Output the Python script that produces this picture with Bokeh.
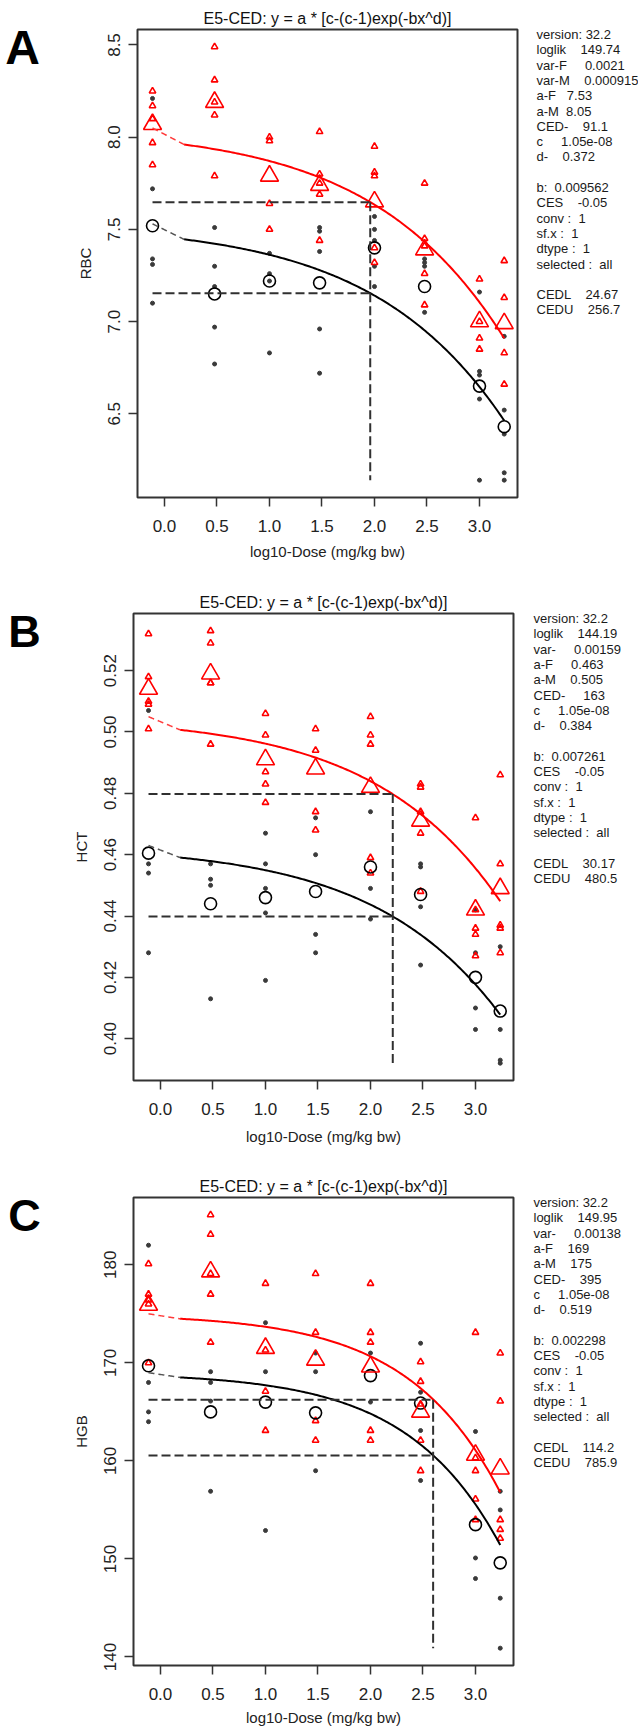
import numpy as np
from bokeh.plotting import figure
from bokeh.layouts import column, row
from bokeh.models import FixedTicker, Range1d, PrintfTickFormatter
from bokeh.core.properties import value
from bokeh.embed import file_html
from bokeh.resources import INLINE

FONT = "Liberation Sans"

# ---------------- data ----------------
dose_levels = [0, 3, 10, 30, 100, 300, 1000, 1720]
x_control = -0.114      # position where the control group (dose 0) is drawn
x_dash_end = 0.187      # end of the dashed part of the fitted curves
x_ticks = [0.0, 0.5, 1.0, 1.5, 2.0, 2.5, 3.0]

# Panel A  (RBC)
rbc_m = [[8.25, 8.17, 8.10, 7.97, 7.85], [8.49, 8.31, 8.19, 8.12, 7.79],
         [8.00, 7.98, 7.64, 7.50], [8.03, 7.80, 7.75, 7.69, 7.44],
         [7.95, 7.81, 7.79, 7.40, 7.32], [7.75, 7.45, 7.41, 7.26, 7.09],
         [7.23, 7.00, 6.91, 6.85], [7.33, 7.13, 6.83, 6.66]]
rbc_f = [[8.21, 7.72, 7.34, 7.31, 7.10], [7.51, 7.30, 7.19, 6.97, 6.77],
         [7.37, 7.26, 7.22, 6.83], [7.51, 7.49, 7.38, 6.96, 6.72],
         [7.57, 7.50, 7.44, 7.30, 7.19], [7.34, 7.32, 7.30, 7.05],
         [7.16, 6.73, 6.71, 6.58, 6.14], [6.92, 6.52, 6.39, 6.18, 6.14]]
rbc_m_mean = [8.07, 8.19, 7.79, 7.74, 7.65, 7.39, 7.00, 6.99]
rbc_f_mean = [7.52, 7.15, 7.22, 7.21, 7.40, 7.19, 6.65, 6.43]
rbc_par = dict(aF=7.53, aM=8.05, b=0.009562, c=1.05e-08, d=0.372, CES=-0.05, CED=91.1)
rbc_ticks = [6.5, 7.0, 7.5, 8.0, 8.5]
rbc_info = [("version: 32.2", None, 0), ("loglik", "149.74", 4), ("var-F", "0.0021", 5),
            ("var-M", "0.000915", 4), ("a-F", "7.53", 3), ("a-M", "8.05", 2),
            ("CED-", "91.1", 4), ("c", "1.05e-08", 5), ("d-", "0.372", 4), ("", None, 0),
            ("b:", "0.009562", 2), ("CES", "-0.05", 4), ("conv\u00a0:", "1", 2),
            ("sf.x\u00a0:", "1", 2), ("dtype\u00a0:", "1", 2), ("selected\u00a0:", "all", 2),
            ("", None, 0), ("CEDL", "24.67", 4), ("CEDU", "256.7", 4)]

# Panel B  (HCT)
hct_m = [[0.532, 0.518, 0.510, 0.509, 0.501], [0.533, 0.529, 0.516, 0.516, 0.496],
         [0.506, 0.499, 0.487, 0.483, 0.477], [0.501, 0.494, 0.474, 0.468],
         [0.505, 0.499, 0.496, 0.459, 0.454], [0.483, 0.482, 0.474, 0.467, 0.448],
         [0.472, 0.442, 0.436, 0.434, 0.427], [0.486, 0.457, 0.437, 0.436, 0.428]]
hct_f = [[0.507, 0.457, 0.454, 0.428], [0.457, 0.452, 0.450, 0.413],
         [0.467, 0.457, 0.449, 0.441, 0.419], [0.472, 0.460, 0.434, 0.428],
         [0.474, 0.449, 0.439], [0.457, 0.456, 0.443, 0.424],
         [0.442, 0.428, 0.410, 0.403], [0.430, 0.403, 0.393, 0.392]]
hct_m_mean = [0.514, 0.519, 0.491, 0.488, 0.482, 0.471, 0.442, 0.449]
hct_f_mean = [0.4605, 0.444, 0.446, 0.448, 0.456, 0.447, 0.420, 0.409]
hct_par = dict(aF=0.463, aM=0.505, b=0.007261, c=1.05e-08, d=0.384, CES=-0.05, CED=163)
hct_ticks = [0.40, 0.42, 0.44, 0.46, 0.48, 0.50, 0.52]
hct_info = [("version: 32.2", None, 0), ("loglik", "144.19", 4), ("var-", "0.00159", 5),
            ("a-F", "0.463", 5), ("a-M", "0.505", 4), ("CED-", "163", 5),
            ("c", "1.05e-08", 5), ("d-", "0.384", 4), ("", None, 0),
            ("b:", "0.007261", 2), ("CES", "-0.05", 4), ("conv\u00a0:", "1", 2),
            ("sf.x\u00a0:", "1", 2), ("dtype\u00a0:", "1", 2), ("selected\u00a0:", "all", 2),
            ("", None, 0), ("CEDL", "30.17", 4), ("CEDU", "480.5", 4)]

# Panel C  (HGB)
hgb_m = [[180.1, 177.0, 176.4, 176.0, 170.0], [185.1, 183.1, 179.1, 177.0, 172.1],
         [178.1, 171.3, 167.1, 163.1], [179.1, 173.1, 164.1, 162.1],
         [178.1, 173.1, 172.1, 163.1, 162.1], [170.1, 168.1, 165.8, 162.1, 159.0],
         [173.1, 160.3, 159.0, 156.1, 154.0], [171.0, 166.1, 154.0, 153.0, 152.1]]
hgb_f = [[182.0, 168.0, 165.0, 164.0], [169.1, 168.0, 166.1, 156.9],
         [174.1, 169.1, 152.9], [171.0, 169.1, 159.0],
         [171.0, 166.0], [172.0, 167.0, 163.1, 158.0],
         [163.0, 150.1, 148.0], [156.9, 155.0, 146.0, 140.9]]
hgb_m_mean = [175.9, 179.3, 171.5, 170.3, 169.6, 165.0, 160.6, 159.2]
hgb_f_mean = [169.7, 165.0, 166.0, 164.9, 168.7, 165.9, 153.5, 149.6]
hgb_par = dict(aF=169, aM=175, b=0.002298, c=1.05e-08, d=0.519, CES=-0.05, CED=395)
hgb_ticks = [140, 150, 160, 170, 180]
hgb_info = [("version: 32.2", None, 0), ("loglik", "149.95", 4), ("var-", "0.00138", 5),
            ("a-F", "169", 4), ("a-M", "175", 4), ("CED-", "395", 4),
            ("c", "1.05e-08", 5), ("d-", "0.519", 4), ("", None, 0),
            ("b:", "0.002298", 2), ("CES", "-0.05", 4), ("conv\u00a0:", "1", 2),
            ("sf.x\u00a0:", "1", 2), ("dtype\u00a0:", "1", 2), ("selected\u00a0:", "all", 2),
            ("", None, 0), ("CEDL", "114.2", 4), ("CEDU", "785.9", 4)]

TITLE = "E5-CED: y = a * [c-(c-1)exp(-bx^d)]"
XLABEL = "log10-Dose (mg/kg bw)"

x_pos = [x_control] + [float(np.log10(d)) for d in dose_levels[1:]]

LETTER_W = 60
INFO_X0 = 520
PAGE_W = 638


def model(dose, a, b, c, d):
    return a * (c - (c - 1) * np.exp(-b * np.power(dose, d)))


def blank_fig(w, frame_h):
    # its frame gets aligned with the main plot frame of the same row
    f = figure(frame_width=w, frame_height=frame_h, x_range=Range1d(0, w),
               y_range=Range1d(frame_h, 0), x_axis_type=None, y_axis_type=None,
               output_backend="svg", toolbar_location=None, min_border_left=0,
               min_border_right=0, min_border_top=0, min_border_bottom=0, title=None)
    f.outline_line_color = None
    f.background_fill_color = None
    f.border_fill_color = None
    return f


def make_panel(letter, ylabel, m_pts, f_pts, m_mean, f_mean, par, yticks, yfmt,
               info, fig_top, frame_left, frame_top, fig_h, frame_h, info_x,
               letter_xy, letter_size, info_y0, xlab_standoff):
    main_w = INFO_X0 - LETTER_W
    bl = frame_left - LETTER_W
    bt = frame_top - fig_top
    allv = [v for g in m_pts + f_pts for v in g]
    lo, hi = min(allv), max(allv)
    span = hi - lo
    p = figure(width=main_w, height=fig_h, frame_width=380, frame_height=frame_h,
               min_border_left=bl, min_border_right=main_w - bl - 380,
               min_border_top=bt, min_border_bottom=fig_h - bt - frame_h,
               x_range=Range1d(-0.257, 3.362),
               y_range=Range1d(lo - 0.04 * span, hi + 0.04 * span),
               output_backend="svg", toolbar_location=None)
    p.title.text = TITLE
    p.title.align = "center"
    p.title.text_font = FONT
    p.title.text_font_size = "16px"
    p.title.text_font_style = "normal"
    p.title.text_color = "#111111"
    p.title.standoff = 5
    p.background_fill_color = "white"
    p.border_fill_color = "white"
    p.outline_line_color = "#333333"
    p.outline_line_width = 2
    p.xgrid.visible = False
    p.ygrid.visible = False
    for ax in (p.xaxis[0], p.yaxis[0]):
        ax.axis_line_color = None
        ax.major_tick_out = 9
        ax.major_tick_in = 0
        ax.minor_tick_line_color = None
        ax.major_tick_line_color = "#333333"
        ax.major_tick_line_width = 1.5
        ax.major_label_text_font = FONT
        ax.major_label_text_font_size = "17px"
        ax.major_label_text_color = "#222222"
        ax.axis_label_text_font = FONT
        ax.axis_label_text_font_size = "15px"
        ax.axis_label_text_font_style = "normal"
        ax.axis_label_text_color = "#222222"
    p.xaxis.major_label_standoff = 13
    p.yaxis.major_label_standoff = 8
    p.xaxis.ticker = FixedTicker(ticks=x_ticks)
    p.xaxis.formatter = PrintfTickFormatter(format="%.1f")
    p.yaxis.ticker = FixedTicker(ticks=yticks)
    p.yaxis.formatter = PrintfTickFormatter(format=yfmt)
    p.yaxis.major_label_orientation = "vertical"
    p.xaxis.axis_label = XLABEL
    p.yaxis.axis_label = ylabel
    p.xaxis.axis_label_standoff = xlab_standoff
    p.yaxis.axis_label_standoff = 12

    a_f, a_m, b, c, d = par["aF"], par["aM"], par["b"], par["c"], par["d"]
    fx = [x for x, g in zip(x_pos, f_pts) for _ in g]
    fy = [v for g in f_pts for v in g]
    mx = [x for x, g in zip(x_pos, m_pts) for _ in g]
    my = [v for g in m_pts for v in g]
    p.scatter(fx, fy, marker="circle", size=4, fill_color="#3a3a3a", line_color="#3a3a3a")
    p.scatter(mx, my, marker="triangle", size=6.5, fill_color=None, line_color="red", line_width=1.6)
    p.scatter(x_pos, f_mean, marker="circle", size=12, fill_color=None, line_color="black", line_width=1.6)
    p.scatter(x_pos, m_mean, marker="triangle", size=18, fill_color=None, line_color="red", line_width=1.6)

    xs = np.linspace(x_dash_end, x_pos[-1], 200)
    d1 = 10 ** x_dash_end
    t = np.linspace(0, 1, 40)
    xd = x_control + t * (x_dash_end - x_control)
    for a, col, dcol in ((a_m, "red", "#ff3b3b"), (a_f, "black", "#555555")):
        p.line(xs, model(10 ** xs, a, b, c, d), line_color=col, line_width=2)
        p.line(xd, model(d1 * t ** (1.0 / d), a, b, c, d), line_color=dcol,
               line_width=1.5, line_dash="6 4")

    xc = float(np.log10(par["CED"]))
    ym = a_m * (1 + par["CES"])
    yf = a_f * (1 + par["CES"])
    dash = dict(line_color="#303030", line_width=2, line_dash="9 4")
    p.line([x_control, xc], [ym, ym], **dash)
    p.line([x_control, xc], [yf, yf], **dash)
    p.line([xc, xc], [ym, lo], **dash)

    # panel letter (coordinates measured from the top of the plot frame)
    lf = blank_fig(LETTER_W, frame_h)
    lf.text(x=[letter_xy[0]], y=[letter_xy[1] - frame_top], text=[letter],
            text_font=value(FONT), text_font_size=letter_size, text_font_style="bold",
            text_align="center", text_baseline="middle", text_color="black")

    # info block
    inf = blank_fig(PAGE_W - INFO_X0, frame_h)
    tx, ty, tt = [], [], []
    for i, (k, v, n) in enumerate(info):
        if not k:
            continue
        tx.append(info_x - INFO_X0)
        ty.append(info_y0 - frame_top + i * 15.3)
        tt.append(k if v is None else k + "\u00a0" * n + v)
    inf.text(x=tx, y=ty, text=tt, text_font=value(FONT), text_font_size="13px",
             text_align="left", text_baseline="middle", text_color="#1a1a1a")
    return row(lf, p, inf, spacing=0)


pa = make_panel("A", "RBC", rbc_m, rbc_f, rbc_m_mean, rbc_f_mean, rbc_par, rbc_ticks, "%.1f",
                rbc_info, fig_top=0, frame_left=137, frame_top=29, fig_h=584, frame_h=468,
                info_x=536, letter_xy=(22, 47), letter_size="48px", info_y0=34, xlab_standoff=8)
pb = make_panel("B", "HCT", hct_m, hct_f, hct_m_mean, hct_f_mean, hct_par, hct_ticks, "%.2f",
                hct_info, fig_top=584, frame_left=133, frame_top=613, fig_h=584, frame_h=467,
                info_x=533, letter_xy=(24, 631), letter_size="45px", info_y0=618, xlab_standoff=10)
pc = make_panel("C", "HGB", hgb_m, hgb_f, hgb_m_mean, hgb_f_mean, hgb_par, hgb_ticks, "%d",
                hgb_info, fig_top=1168, frame_left=133, frame_top=1197, fig_h=563, frame_h=468,
                info_x=533, letter_xy=(24, 1215), letter_size="45px", info_y0=1202, xlab_standoff=6)

layout = column(pa, pb, pc, spacing=0)
open("out.html", "w").write(file_html(layout, INLINE))
